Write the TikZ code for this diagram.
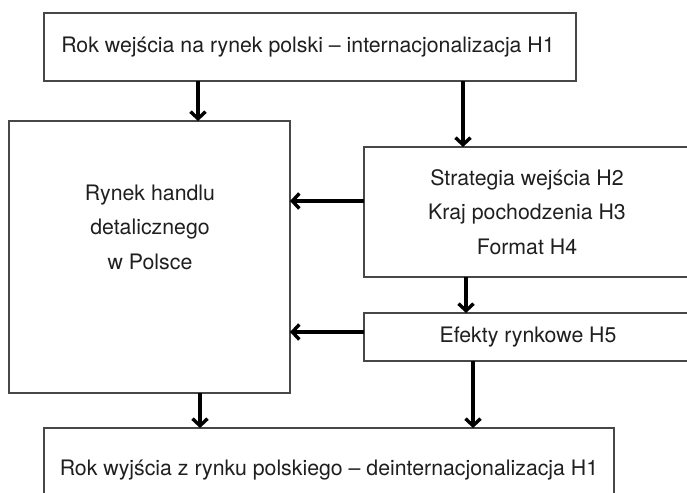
\documentclass[tikz,border=0pt]{standalone}
\usepackage{fontspec}
\setmainfont{TeX Gyre Heros}
\usetikzlibrary{arrows.meta}
\begin{document}
\begin{tikzpicture}[x=1pt,y=-1pt,
  box/.style={draw=black!72, line width=1.4pt, anchor=north west, inner sep=0pt, outer sep=0pt},
  txt/.style={text=black!88, align=center, inner sep=0pt, font=\fontsize{21.3}{34.5}\selectfont},
  arr/.style={draw=black, line width=3.4pt, -{Straight Barb[length=7pt,width=15pt]}}]
\useasboundingbox (0,0) rectangle (687,492);
\clip (0,0) rectangle (687,492);
\fill[white] (0,0) rectangle (687,492);
% boxes
\node[box, minimum width=532pt, minimum height=68pt] (top) at (44,13) {};
\node[box, minimum width=281pt, minimum height=272pt] (lb) at (9,121) {};
\node[box, minimum width=330pt, minimum height=130pt] (rb) at (364,147) {};
\node[box, minimum width=330pt, minimum height=48pt] (ef) at (364,313) {};
\node[box, minimum width=570pt, minimum height=84pt] (bot) at (44,428) {};
% texts
\node[txt] (toptxt) at (308,47) {Rok wejścia na rynek polski – internacjonalizacja H1};
\node[txt] (lbtxt) at (150,227) {Rynek handlu\\detalicznego\\w Polsce};
\node[txt] (rbtxt) at (527,212) {Strategia wejścia H2\\Kraj pochodzenia H3\\Format H4};
\node[txt] (eftxt) at (528,337) {Efekty rynkowe H5};
\node[txt] (bottxt) at (329,470) {Rok wyjścia z rynku polskiego – deinternacjonalizacja H1};
% arrow positions
\coordinate (c1) at (198,0);
\coordinate (c2) at (463,0);
\coordinate (c4) at (466,0);
\coordinate (c6) at (200,0);
\coordinate (c7) at (473,0);
\coordinate (r1) at (0,201);
\coordinate (r2) at (0,332);
% arrows
\draw[arr] (top.south -| c1) -- (lb.north -| c1);
\draw[arr] (top.south -| c2) -- (rb.north -| c2);
\draw[arr] (rb.west |- r1) -- (lb.east |- r1);
\draw[arr] (rb.south -| c4) -- (ef.north -| c4);
\draw[arr] (ef.west |- r2) -- (lb.east |- r2);
\draw[arr] (lb.south -| c6) -- (bot.north -| c6);
\draw[arr] (ef.south -| c7) -- (bot.north -| c7);
\end{tikzpicture}
\end{document}
